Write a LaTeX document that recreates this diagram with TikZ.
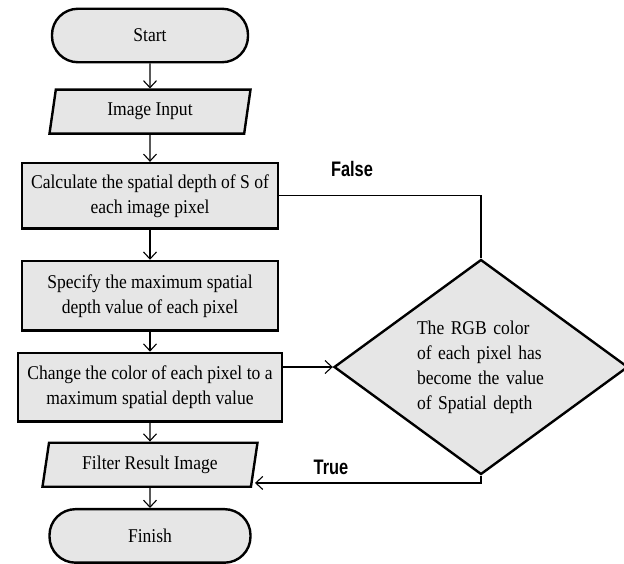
\documentclass[tikz,border=0pt]{standalone}
\usepackage{fontspec}
\setmainfont{Liberation Serif}[FakeStretch=0.9]
\newfontfamily\tagfont[FakeStretch=0.78]{Liberation Sans}
\usetikzlibrary{arrows.meta, positioning, shapes.geometric}
\definecolor{boxfill}{RGB}{230,230,230}

\begin{document}
\begin{tikzpicture}[
  x=1pt, y=-1pt,
  font=\fontsize{19.5}{25}\selectfont,
  terminal/.style={draw, line width=2.4pt, fill=boxfill, rounded corners=26pt,
                   minimum height=53.5pt},
  process/.style={draw, line width=2.4pt, fill=boxfill, align=center,
                  minimum width=256pt},
  io/.style={draw, line width=2.4pt, fill=boxfill, trapezium,
             trapezium left angle=75, trapezium right angle=105,
             trapezium stretches body, minimum height=44pt},
  decision/.style={draw, line width=2.4pt, fill=boxfill, diamond, aspect=1.35,
                   minimum width=294pt, minimum height=215pt, inner sep=0pt,
                   text width=128pt, align=left},
  flow/.style={line width=1.1pt, -{Straight Barb[length=7pt, width=13pt]}},
  tag/.style={font=\tagfont\bfseries\fontsize{21}{21}\selectfont}
]
\useasboundingbox (0,0) rectangle (624,563);

% main column
\node[terminal, minimum width=196pt] (start) at (150,35.5) {Start};
\node[io, minimum width=201pt, below=25pt of start] (img) {Image Input};
\node[process, minimum height=65.5pt, below=27pt of img] (calc)
  {Calculate the spatial depth of S of\\each image pixel};
\node[process, minimum height=69.5pt, below=30pt of calc] (spec)
  {Specify the maximum spatial\\depth value of each pixel};
\node[process, minimum width=264pt, minimum height=68.5pt, below=20pt of spec] (chg)
  {Change the color of each pixel to a\\maximum spatial depth value};
\node[io, minimum width=215pt, below=19pt of chg] (res) {Filter Result Image};
\node[terminal, minimum width=201pt, below=20pt of res] (fin) {Finish};

% check
\node[decision] (rgb) at (481,367)
  {The RGB color\\of each pixel has\\become the value\\of Spatial depth};
\node[tag] (no) at (352,169) {False};
\node[tag] (yes) at (331,467) {True};

\coordinate (back) at ([xshift=3pt, yshift=5pt]res.bottom right corner);

\draw[flow] (start) -- (img);
\draw[flow] (img) -- (calc);
\draw[flow] (calc) -- (spec);
\draw[flow] (spec) -- (chg);
\draw[flow] (chg) -- (res);
\draw[flow] (res) -- (fin);
\draw[flow] (chg.east |- rgb.west) -- (rgb.west);
\draw[line width=1.1pt] (calc.east) -| (rgb.north);
\draw[flow] (rgb.south) |- (back);
\end{tikzpicture}
\end{document}
